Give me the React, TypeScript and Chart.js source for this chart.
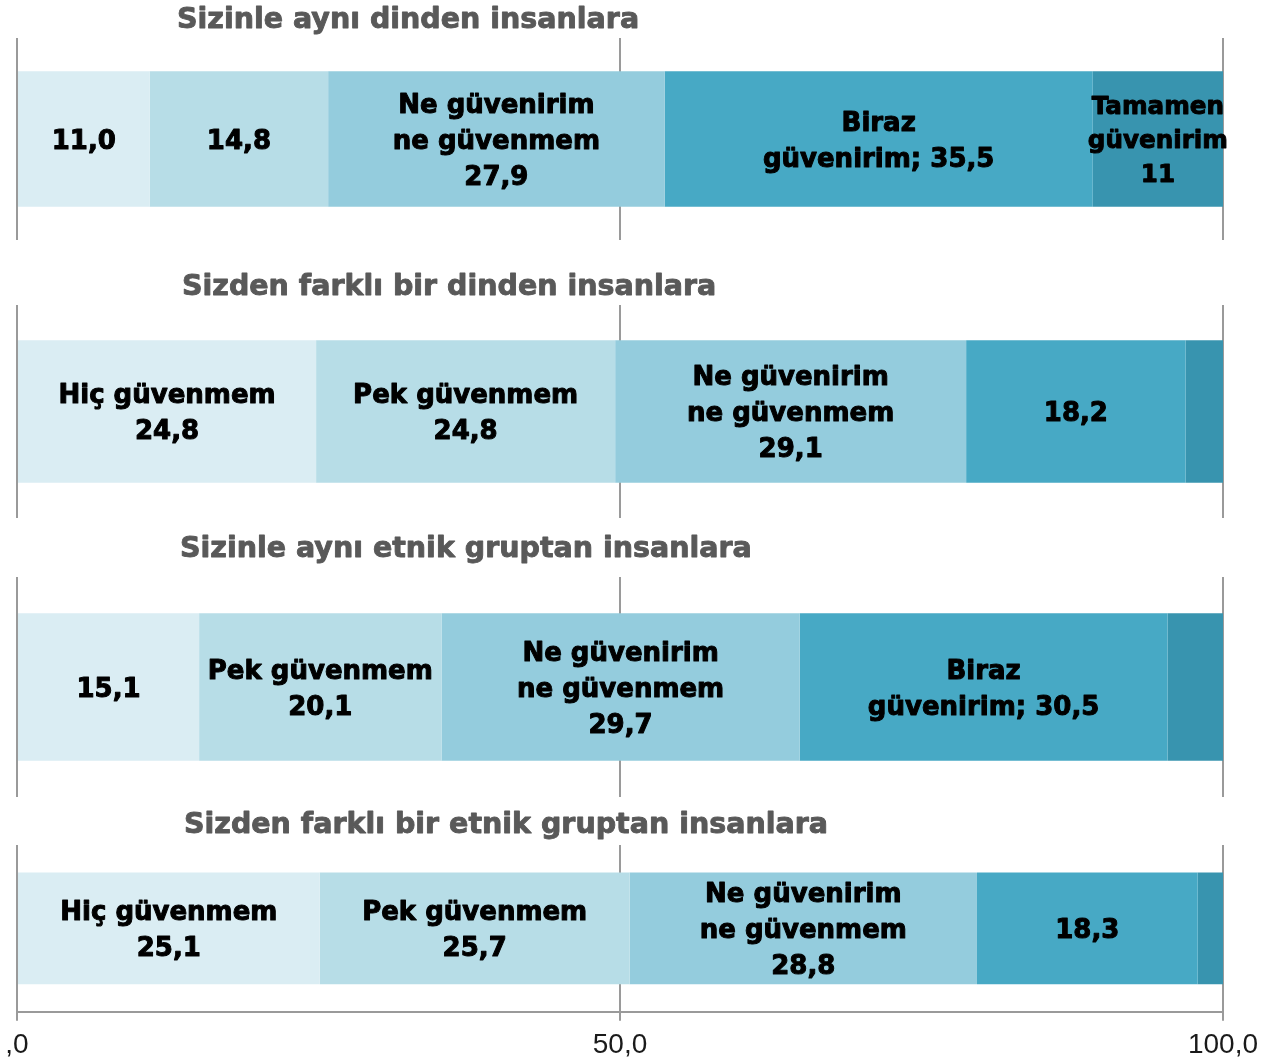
import React, { useEffect, useRef } from "react";
import { Chart, registerables } from "chart.js";

Chart.register(...registerables);

// ---- Data ----
const panelTitles = [
  "Sizinle aynı dinden insanlara",
  "Sizden farklı bir dinden insanlara",
  "Sizinle aynı etnik gruptan insanlara",
  "Sizden farklı bir etnik gruptan insanlara",
];

const responseCategories = [
  "Hiç güvenmem",
  "Pek güvenmem",
  "Ne güvenirim ne güvenmem",
  "Biraz güvenirim",
  "Tamamen güvenirim",
];

const hicGuvenmem = [11.0, 24.8, 15.1, 25.1];
const pekGuvenmem = [14.8, 24.8, 20.1, 25.7];
const neGuvenirimNeGuvenmem = [27.9, 29.1, 29.7, 28.8];
const birazGuvenirim = [35.5, 18.2, 30.5, 18.3];
const tamamenGuvenirim = [10.8, 3.1, 4.6, 2.1];

const seriesValues = [
  hicGuvenmem,
  pekGuvenmem,
  neGuvenirimNeGuvenmem,
  birazGuvenirim,
  tamamenGuvenirim,
];

const segmentLabels1 = ["11,0", "14,8", "Ne güvenirim\nne güvenmem\n27,9", "Biraz\ngüvenirim; 35,5", "Tamamen\ngüvenirim\n11"];
const segmentLabels2 = ["Hiç güvenmem\n24,8", "Pek güvenmem\n24,8", "Ne güvenirim\nne güvenmem\n29,1", "18,2", ""];
const segmentLabels3 = ["15,1", "Pek güvenmem\n20,1", "Ne güvenirim\nne güvenmem\n29,7", "Biraz\ngüvenirim; 30,5", ""];
const segmentLabels4 = ["Hiç güvenmem\n25,1", "Pek güvenmem\n25,7", "Ne güvenirim\nne güvenmem\n28,8", "18,3", ""];
const segmentLabels = [segmentLabels1, segmentLabels2, segmentLabels3, segmentLabels4];

const tickLabels = [",0", "50,0", "100,0"];

// ---- Styles / layout ----
const seriesColors = ["#daedf3", "#b7dde7", "#94ccdd", "#47a9c5", "#3894af"];
const gridColor = "#9a9a9a";
const labelFontFamily = "'DejaVu Sans', sans-serif";
const panelLayout = [
  { top: 0, height: 240, padTop: 38, titleX: 160, titleDy: 17.5 },
  { top: 255, height: 263, padTop: 50, titleX: 165, titleDy: 17.5 },
  { top: 527, height: 270, padTop: 50, titleX: 163, titleDy: 27.5 },
  { top: 800, height: 270, padTop: 45, titleX: 167, titleDy: 19.5 },
];

function Panel({ index }: { index: number }) {
  const ref = useRef<HTMLCanvasElement>(null);
  const layout = panelLayout[index];

  useEffect(() => {
    if (!ref.current) return;
    const isLast = index === panelTitles.length - 1;

    const datasets = seriesValues.map((vals, s) => ({
      label: responseCategories[s],
      data: [vals[index]],
      backgroundColor: seriesColors[s],
      borderWidth: 0,
      categoryPercentage: 1,
      barPercentage: 0.67,
    }));

    const titlePlugin = {
      id: "panelTitle",
      afterDraw(chart: any) {
        const ctx = chart.ctx;
        const area = chart.chartArea;
        ctx.save();
        ctx.font = `bold 28.5px ${labelFontFamily}`;
        ctx.fillStyle = "#595959";
        ctx.strokeStyle = "#595959";
        ctx.lineWidth = 0.9;
        ctx.lineJoin = "round";
        ctx.textAlign = "left";
        ctx.textBaseline = "middle";
        const tx = area.left + layout.titleX;
        const ty = area.top - layout.titleDy;
        ctx.fillText(panelTitles[index], tx, ty);
        ctx.strokeText(panelTitles[index], tx, ty);
        ctx.restore();
      },
    };

    const labelPlugin = {
      id: "segmentLabels",
      afterDatasetsDraw(chart: any) {
        const ctx = chart.ctx;
        ctx.save();
        ctx.fillStyle = "#000";
        ctx.strokeStyle = "#000";
        ctx.lineJoin = "round";
        ctx.textAlign = "center";
        ctx.textBaseline = "middle";
        chart.data.datasets.forEach((_: any, s: number) => {
          const text = segmentLabels[index][s];
          if (!text) return;
          const el = chart.getDatasetMeta(s).data[0];
          if (!el) return;
          const { x, base, y } = el.getProps(["x", "base", "y"], true);
          const cx = (x + base) / 2;
          const segW = Math.abs(x - base);
          const lines = text.split("\n");
          let size = 26;
          ctx.font = `bold ${size}px ${labelFontFamily}`;
          const maxW = Math.max(...lines.map((l: string) => ctx.measureText(l).width));
          if (maxW > segW + 10) size = (size * (segW + 10)) / maxW;
          ctx.font = `bold ${size}px ${labelFontFamily}`;
          ctx.lineWidth = size / 26;
          const lh = size * 1.38;
          const startY = y + 3 - ((lines.length - 1) * lh) / 2;
          lines.forEach((line: string, i: number) => {
            ctx.fillText(line, cx, startY + i * lh);
            ctx.strokeText(line, cx, startY + i * lh);
          });
        });
        ctx.restore();
      },
    };

    const chart = new Chart(ref.current, {
      type: "bar",
      data: { labels: [panelTitles[index]], datasets },
      options: {
        indexAxis: "y",
        responsive: false,
        animation: false,
        events: [],
        layout: { padding: { top: layout.padTop, left: 17, right: 54, bottom: 0 } },
        plugins: {
          legend: { display: false },
          tooltip: { enabled: false },
          title: { display: false },
        },
        scales: {
          x: {
            type: "linear",
            stacked: true,
            min: 0,
            max: 100,
            grid: { color: gridColor, lineWidth: 2, drawTicks: isLast, tickLength: 9 },
            border: { display: isLast, color: gridColor, width: 2 },
            ticks: {
              display: isLast,
              stepSize: 50,
              autoSkip: false,
              maxRotation: 0,
              padding: 5,
              color: "#1a1a1a",
              font: { family: "'Liberation Sans', Arial, sans-serif", size: 28, lineHeight: 1.4 },
              callback: (_v: any, i: number) => tickLabels[i],
            },
          },
          y: { stacked: true, display: false },
        },
      } as any,
      plugins: [titlePlugin, labelPlugin],
    });
    return () => chart.destroy();
  }, [index]);

  return (
    <canvas
      ref={ref}
      width={1277}
      height={layout.height}
      style={{ position: "absolute", left: 0, top: layout.top, display: "block" }}
    />
  );
}

export default function App() {
  return (
    <div
      style={{
        position: "fixed",
        left: 0,
        top: 0,
        width: 1277,
        height: 1063,
        background: "#fff",
        overflow: "hidden",
      }}
    >
      {panelTitles.map((_, i) => (
        <Panel key={i} index={i} />
      ))}
    </div>
  );
}
